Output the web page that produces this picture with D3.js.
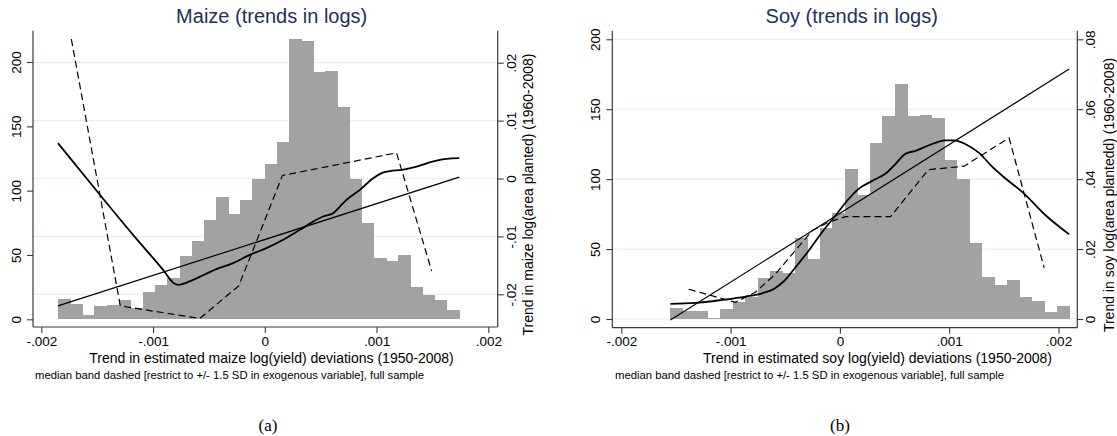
<!DOCTYPE html>
<html>
<head>
<meta charset="utf-8">
<script src="https://cdn.jsdelivr.net/npm/d3@7"></script>
<style>
  body { margin: 0; background: #fff; }
  svg { display: block; font-family: "Liberation Sans", Arial, Helvetica, sans-serif; }
</style>
</head>
<body>
<svg id="chart" width="1117" height="436"></svg>
<script>
// ---- Maize: histogram of yield-trend deviations (counts per bin) ----
const maizeBinStart = -0.001851;
const maizeBinWidth = 0.0001088;
const maizeCounts = [16, 12, 3, 10, 11, 15, 9, 21, 27, 32, 49, 61, 77, 95, 82, 93, 109,
  121, 138, 218, 216, 192, 193, 165, 109, 75, 48, 45, 50, 25, 19, 15, 7];

// Maize: linear fit of area trend on yield trend (end points)
const maizeFitX = [-0.001851, 0.00174];
const maizeFitY = [-0.0220, 0.00023];

// Maize: median band (dashed)
const maizeMedX = [-0.001731, -0.001293, -0.000582, -0.000233, 0.000158, 0.001179, 0.001493];
const maizeMedY = [0.02406, -0.0220, -0.02418, -0.01854, 0.00052, 0.00443, -0.01595];

// Maize: local smoother (bold solid)
const maizeSmX = [-0.001851, -0.001463, -0.001179, -0.00091, -0.000806, -0.000776, -0.000642,
  -0.000433, -0.000284, -0.000134, 0.000015, 0.000164, 0.000313, 0.000433, 0.000522, 0.000612,
  0.000672, 0.000731, 0.000851, 0.00097, 0.001045, 0.001119, 0.001224, 0.001358, 0.001507,
  0.001627, 0.00174];
const maizeSmY = [0.0061, -0.00311, -0.00973, -0.01577, -0.01819, -0.01837, -0.0175,
  -0.01566, -0.01462, -0.01318, -0.01203, -0.01059, -0.00887, -0.00743, -0.00656, -0.00599,
  -0.00484, -0.00368, -0.00196, 0.00006, 0.00092, 0.00127, 0.0015, 0.00207, 0.00294,
  0.0034, 0.00351];

// ---- Soy ----
const soyBinStart = -0.001551;
const soyBinWidth = 0.000114;
const soyCounts = [8, 6, 6, 1, 7, 12, 16, 29, 34, 33, 58, 43, 65, 76, 107, 89, 126, 145,
  168, 145, 146, 144, 114, 100, 54, 30, 24, 28, 16, 13, 5, 9];

const soyFitX = [-0.001551, 0.002098];
const soyFitY = [-0.0003, 0.0715];

const soyMedX = [-0.001383, -0.000956, -0.000773, -0.000589, -0.000421, -0.000253, -0.000101,
  0.000052, 0.000464, 0.000809, 0.001136, 0.001548, 0.001869];
const soyMedY = [0.00851, 0.00478, 0.00765, 0.0129, 0.0191, 0.0253, 0.0277,
  0.0293, 0.0293, 0.0427, 0.0437, 0.0518, 0.0146];

const soySmX = [-0.001551, -0.001322, -0.001078, -0.000864, -0.000711, -0.000605, -0.000513,
  -0.000406, -0.000284, -0.000162, -0.00004, 0.000082, 0.000174, 0.000296, 0.000418, 0.00051,
  0.000602, 0.000693, 0.000815, 0.000968, 0.001044, 0.001151, 0.001273, 0.001395, 0.001518,
  0.00167, 0.001884, 0.002098];
const soySmY = [0.0043, 0.00459, 0.00545, 0.0064, 0.00736, 0.0086, 0.0108,
  0.0148, 0.0196, 0.0249, 0.0296, 0.0344, 0.0373, 0.0395, 0.0416, 0.0444,
  0.0473, 0.0481, 0.0497, 0.0511, 0.0511, 0.05, 0.0475, 0.0435, 0.0401,
  0.0363, 0.0296, 0.0242];

// ---- Tick values and labels ----
const xTickValues = [-0.002, -0.001, 0, 0.001, 0.002];
const xTickLabels = ["-.002", "-.001", "0", ".001", ".002"];
const countTickValues = [0, 50, 100, 150, 200];
const countTickLabels = ["0", "50", "100", "150", "200"];
const maizeRightTicks = [-0.02, -0.01, 0, 0.01, 0.02];
const maizeRightLabels = ["-.02", "-.01", "0", ".01", ".02"];
const soyRightTicks = [0, 0.02, 0.04, 0.06, 0.08];
const soyRightLabels = ["0", ".02", ".04", ".06", ".08"];

// ---- Text ----
const noteText = "median band dashed [restrict to +/- 1.5 SD in exogenous variable], full sample";

const svg = d3.select("#chart");

const SANS = '"Liberation Sans", Arial, Helvetica, sans-serif';
const SERIF = '"Liberation Serif", "DejaVu Serif", serif';
const TITLE_COLOR = "#1e3058";
const AXIS_COLOR = "#3a3a3a";
const GRID_COLOR = "#e6eff1";
const BAR_COLOR = "#a2a2a2";

function drawPanel(p) {
  const g = svg.append("g");
  const { x0, x1, y0, y1 } = p.box;

  const x = d3.scaleLinear().domain([-0.002, 0.002]).range(p.xRange);
  const yCount = d3.scaleLinear().domain([0, 200]).range(p.countRange);
  const yVal = d3.scaleLinear().domain(p.valDomain).range(p.valRange);

  // grid lines follow the right-hand axis
  g.append("g").selectAll("line").data(p.rightTicks).join("line")
    .attr("x1", x0).attr("x2", x1)
    .attr("y1", d => yVal(d)).attr("y2", d => yVal(d))
    .attr("stroke", GRID_COLOR).attr("stroke-width", 1.2);

  // histogram bars
  const bins = p.counts.map((c, i) => ({ lo: p.binStart + i * p.binWidth, hi: p.binStart + (i + 1) * p.binWidth, c }));
  g.append("g").selectAll("rect").data(bins).join("rect")
    .attr("x", d => x(d.lo))
    .attr("width", d => x(d.hi) - x(d.lo) + 0.4)
    .attr("y", d => yCount(d.c))
    .attr("height", d => yCount(0) - yCount(d.c))
    .attr("fill", BAR_COLOR)
    .attr("shape-rendering", "crispEdges");

  const line = d3.line().x(d => x(d[0])).y(d => yVal(d[1]));
  const smooth = d3.line().x(d => x(d[0])).y(d => yVal(d[1])).curve(d3.curveMonotoneX);

  // linear fit
  g.append("path").datum(d3.zip(p.fitX, p.fitY)).attr("d", line)
    .attr("fill", "none").attr("stroke", "#000").attr("stroke-width", 1.2);
  // median band
  g.append("path").datum(d3.zip(p.medX, p.medY)).attr("d", line)
    .attr("fill", "none").attr("stroke", "#000").attr("stroke-width", 1.2)
    .attr("stroke-dasharray", "7,4");
  // smoother
  g.append("path").datum(d3.zip(p.smX, p.smY)).attr("d", smooth)
    .attr("fill", "none").attr("stroke", "#000").attr("stroke-width", 1.8)
    .attr("stroke-linejoin", "round");

  // axes
  const bottom = g.append("g").attr("transform", `translate(0,${y1})`)
    .call(d3.axisBottom(x).tickValues(xTickValues).tickFormat((d, i) => xTickLabels[i]).tickSize(6).tickSizeOuter(0));
  const left = g.append("g").attr("transform", `translate(${x0},0)`)
    .call(d3.axisLeft(yCount).tickValues(countTickValues).tickFormat((d, i) => countTickLabels[i]).tickSize(6).tickSizeOuter(0));
  const right = g.append("g").attr("transform", `translate(${x1},0)`)
    .call(d3.axisRight(yVal).tickValues(p.rightTicks).tickFormat((d, i) => p.rightLabels[i]).tickSize(6).tickSizeOuter(0));

  [bottom, left, right].forEach(a => {
    a.attr("font-family", null).attr("font-size", null);
    a.select(".domain").remove();
    a.selectAll(".tick line").attr("stroke", AXIS_COLOR).attr("stroke-width", 1.1);
    a.selectAll("text").attr("fill", "#000").style("font-size", "13.5px").style("font-family", SANS);
  });
  bottom.selectAll("text").attr("y", 0).attr("dy", 0)
    .attr("transform", `translate(0,${346 - y1})`);
  left.selectAll("text").attr("x", 0).attr("dy", "0.35em").attr("text-anchor", "middle")
    .attr("transform", `translate(${-p.leftLabelOff},0) rotate(-90)`);
  right.selectAll("text").attr("x", 0).attr("dy", "0.35em").attr("text-anchor", "middle")
    .attr("transform", `translate(${p.rightLabelOff},0) rotate(-90)`);

  // axis lines
  g.append("line").attr("x1", x0).attr("x2", x0).attr("y1", y0).attr("y2", y1)
    .attr("stroke", AXIS_COLOR).attr("stroke-width", 1.2);
  g.append("line").attr("x1", x1).attr("x2", x1).attr("y1", y0).attr("y2", y1)
    .attr("stroke", AXIS_COLOR).attr("stroke-width", 1.2);
  g.append("line").attr("x1", x0).attr("x2", x1).attr("y1", y1).attr("y2", y1)
    .attr("stroke", AXIS_COLOR).attr("stroke-width", 1.2);

  // titles
  g.append("text").attr("x", p.titleX).attr("y", 22.5).attr("text-anchor", "middle")
    .style("font-size", "20px").style("font-family", SANS).attr("fill", TITLE_COLOR).text(p.title);
  g.append("text").attr("x", p.xTitleX).attr("y", 363).attr("text-anchor", "middle")
    .style("font-size", "14px").style("font-family", SANS).attr("fill", "#000").text(p.xTitle);
  g.append("text").attr("text-anchor", "middle").style("font-size", "14px").style("font-family", SANS)
    .attr("fill", "#000").attr("dy", "0.35em")
    .attr("transform", `translate(${p.yTitleX},${p.yTitleY}) rotate(-90)`).text(p.yTitle);
  g.append("text").attr("x", p.noteX).attr("y", 379).style("font-size", "11.3px").style("font-family", SANS)
    .attr("fill", "#000").text(noteText);
  g.append("text").attr("x", p.capX).attr("y", 431).attr("text-anchor", "middle")
    .style("font-size", "17px").style("font-family", SERIF)
    .attr("fill", "#000").text(p.caption);
}

drawPanel({
  box: { x0: 33, x1: 497.7, y0: 30.7, y1: 327 },
  xRange: [41.3, 488.3],
  countRange: [319.3, 62],
  valDomain: [0, 0.02], valRange: [178.5, 62.7],
  binStart: maizeBinStart, binWidth: maizeBinWidth, counts: maizeCounts,
  fitX: maizeFitX, fitY: maizeFitY,
  medX: maizeMedX, medY: maizeMedY,
  smX: maizeSmX, smY: maizeSmY,
  rightTicks: maizeRightTicks, rightLabels: maizeRightLabels,
  leftLabelOff: 16.5, rightLabelOff: 14,
  title: "Maize (trends in logs)", titleX: 271.7,
  xTitle: "Trend in estimated maize log(yield) deviations (1950-2008)", xTitleX: 271.5,
  yTitle: "Trend in maize log(area planted) (1960-2008)", yTitleX: 528.3, yTitleY: 194.5,
  noteX: 35, capX: 268, caption: "(a)"
});

drawPanel({
  box: { x0: 612.3, x1: 1077.3, y0: 30.7, y1: 327.7 },
  xRange: [621.3, 1058.5],
  countRange: [319, 39.3],
  valDomain: [0, 0.08], valRange: [319, 39.3],
  binStart: soyBinStart, binWidth: soyBinWidth, counts: soyCounts,
  fitX: soyFitX, fitY: soyFitY,
  medX: soyMedX, medY: soyMedY,
  smX: soySmX, smY: soySmY,
  rightTicks: soyRightTicks, rightLabels: soyRightLabels,
  leftLabelOff: 17, rightLabelOff: 13,
  title: "Soy (trends in logs)", titleX: 851.7,
  xTitle: "Trend in estimated soy log(yield) deviations (1950-2008)", xTitleX: 877.5,
  yTitle: "Trend in soy log(area plantedd) (1960-2008)", yTitleX: 1109, yTitleY: 195,
  noteX: 615, capX: 840, caption: "(b)"
});
</script>
</body>
</html>
